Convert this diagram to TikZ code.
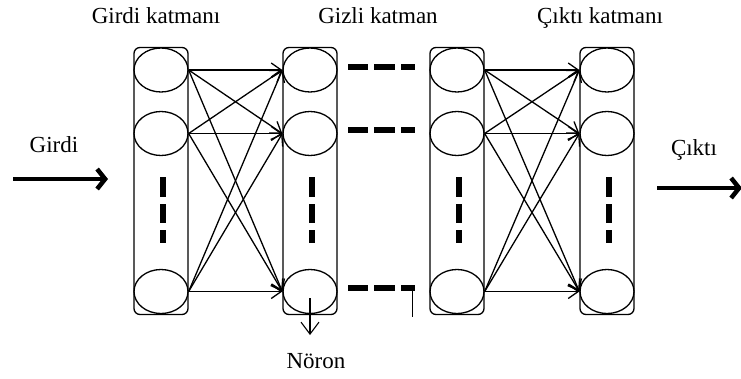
\documentclass[tikz,border=0pt]{standalone}
\usepackage{fontspec}
\setmainfont{Liberation Serif}
\usetikzlibrary{arrows.meta,shapes.geometric}

\begin{document}
\begin{tikzpicture}[x=1pt,y=-1pt,
  every node/.style={font=\fontsize{23}{27}\selectfont},
  layerbox/.style={draw, rounded corners=6pt, line width=1.3pt,
    minimum width=54pt, minimum height=267pt, inner sep=0pt},
  neuron/.style={draw, ellipse, line width=1.3pt,
    minimum width=54pt, minimum height=44pt, inner sep=0pt},
  conn/.style={line width=1.3pt, -{Straight Barb[length=10pt,width=14pt]}},
  vdash/.style={line width=5.5pt},
  hdash/.style={line width=6pt},
  bigarrow/.style={line width=4.5pt, -{Straight Barb[length=8pt,width=20pt]}},
  label/.style={anchor=base, inner sep=0pt}
]
\useasboundingbox (0,0) rectangle (741,378);

% four layers of neurons
\foreach \name/\x in {l1/161, l2/310, l3/457, l4/607}{
  \node[layerbox] (\name box) at (\x,181) {};
  \node[neuron] (\name a) at (\x,70) {};
  \node[neuron] (\name b) at (\x,133.5) {};
  \node[neuron] (\name c) at (\x,291.5) {};
  % vertical ellipsis inside each layer
  \draw[vdash] (\x+2,177) -- (\x+2,197);
  \draw[vdash] (\x+2,204) -- (\x+2,223);
  \draw[vdash] (\x+2,230) -- (\x+2,243);
}

% full connections between neighbouring layers
\foreach \s in {a,b,c}{
  \foreach \t in {a,b,c}{
    \draw[conn] (l1\s.east) -- (l2\t.west);
    \draw[conn] (l3\s.east) -- (l4\t.west);
  }
}

% hidden layers continue
\foreach \y in {67,130,288}{
  \draw[hdash] (348,\y) -- (368,\y);
  \draw[hdash] (374,\y) -- (395,\y);
  \draw[hdash] (401,\y) -- (415,\y);
}
\coordinate (tickTop) at (412,288);
\coordinate (tickBot) at (412,317);
\draw[line width=0.8pt] (tickTop) -- (tickBot);

% titles
\node[label] (tin) at (156,23) {Girdi katmanı};
\node[label] (thid) at (378,23) {Gizli katman};
\node[label] (tout) at (600,23) {Çıktı katmanı};

% input and output
\node[label] (gin) at (54,152) {Girdi};
\coordinate (inStart) at (13,179);
\coordinate (inEnd) at (108,179);
\draw[bigarrow] (inStart) -- (inEnd);

\node[label] (gout) at (694,155) {Çıktı};
\coordinate (outStart) at (657,188);
\coordinate (outEnd) at (742,188);
\draw[bigarrow] (outStart) -- (outEnd);

% neuron pointer
\coordinate (nTop) at (310,298);
\coordinate (nTip) at (310,335);
\node[label] (nlab) at (316,368) {Nöron};
\draw[line width=1.1pt, -{Straight Barb[length=12pt,width=18pt]}] (nTop) -- (nTip);
\end{tikzpicture}
\end{document}
